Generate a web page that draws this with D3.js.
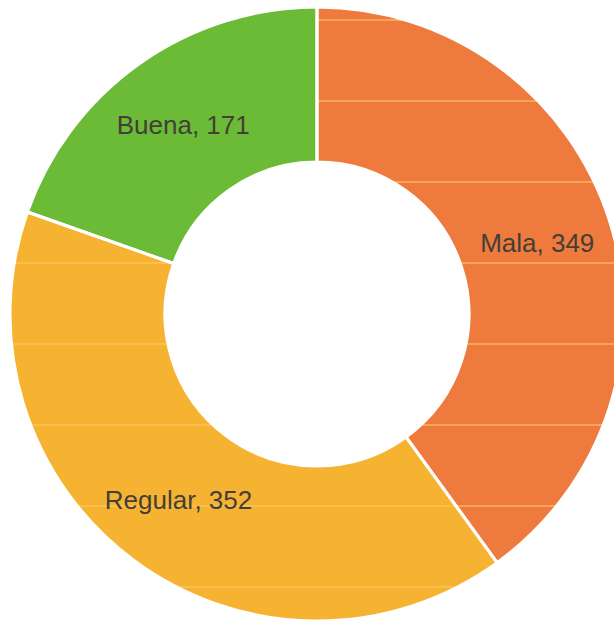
<!DOCTYPE html>
<html>
<head>
<meta charset="utf-8">
<script src="https://cdn.jsdelivr.net/npm/d3@7"></script>
<style>
  body { margin: 0; background: #fff; }
  svg { display: block; }
</style>
</head>
<body>
<script>
// categories and values
const categories = ['Mala', 'Regular', 'Buena'];
const values = [349, 352, 171];
const colors = ['#EF7A3E', '#F6B332', '#6BBB36'];

const width = 614, height = 621;
const cx = 317, cy = 314;
const outer = 307, inner = 152;

const data = categories.map((c, i) => ({ name: c, value: values[i], color: colors[i] }));

const svg = d3.select('body')
  .append('svg')
  .attr('width', width)
  .attr('height', height);

const pie = d3.pie()
  .value(d => d.value)
  .sort(null);

const arc = d3.arc()
  .innerRadius(inner)
  .outerRadius(outer);

const labelArc = d3.arc()
  .innerRadius((inner + outer) / 2 + 2)
  .outerRadius((inner + outer) / 2 + 2);

const arcs = pie(data);

const g = svg.append('g')
  .attr('transform', 'translate(' + cx + ',' + cy + ')');

// stripes only show on the orange and yellow slices
svg.append('clipPath')
  .attr('id', 'ring')
  .selectAll('path')
  .data(arcs.filter(d => d.data.name != 'Buena'))
  .join('path')
  .attr('transform', 'translate(' + cx + ',' + cy + ')')
  .attr('d', arc);

g.selectAll('path.slice')
  .data(arcs)
  .join('path')
  .attr('class', 'slice')
  .attr('d', arc)
  .attr('fill', d => d.data.color);

// faint light stripes from the scanned picture
svg.append('g')
  .attr('clip-path', 'url(#ring)')
  .selectAll('line')
  .data(d3.range(20, height, 81))
  .join('line')
  .attr('x1', 0)
  .attr('x2', width)
  .attr('y1', d => d)
  .attr('y2', d => d)
  .attr('stroke', '#FFC86A')
  .attr('stroke-opacity', 0.55)
  .attr('stroke-width', 2);

const overlay = svg.append('g')
  .attr('transform', 'translate(' + cx + ',' + cy + ')');

// white separators on top
overlay.selectAll('path.sep')
  .data(arcs)
  .join('path')
  .attr('class', 'sep')
  .attr('d', arc)
  .attr('fill', 'none')
  .attr('stroke', '#fff')
  .attr('stroke-width', 3)
  .attr('stroke-linejoin', 'round');

overlay.selectAll('text')
  .data(arcs)
  .join('text')
  .attr('transform', d => 'translate(' + labelArc.centroid(d) + ')')
  .attr('text-anchor', 'middle')
  .attr('dy', '0.35em')
  .style('font-family', 'Arial, "Liberation Sans", sans-serif')
  .style('font-size', '26px')
  .attr('fill', '#433f38')
  .text(d => d.data.name + ', ' + d.data.value);
</script>
</body>
</html>
